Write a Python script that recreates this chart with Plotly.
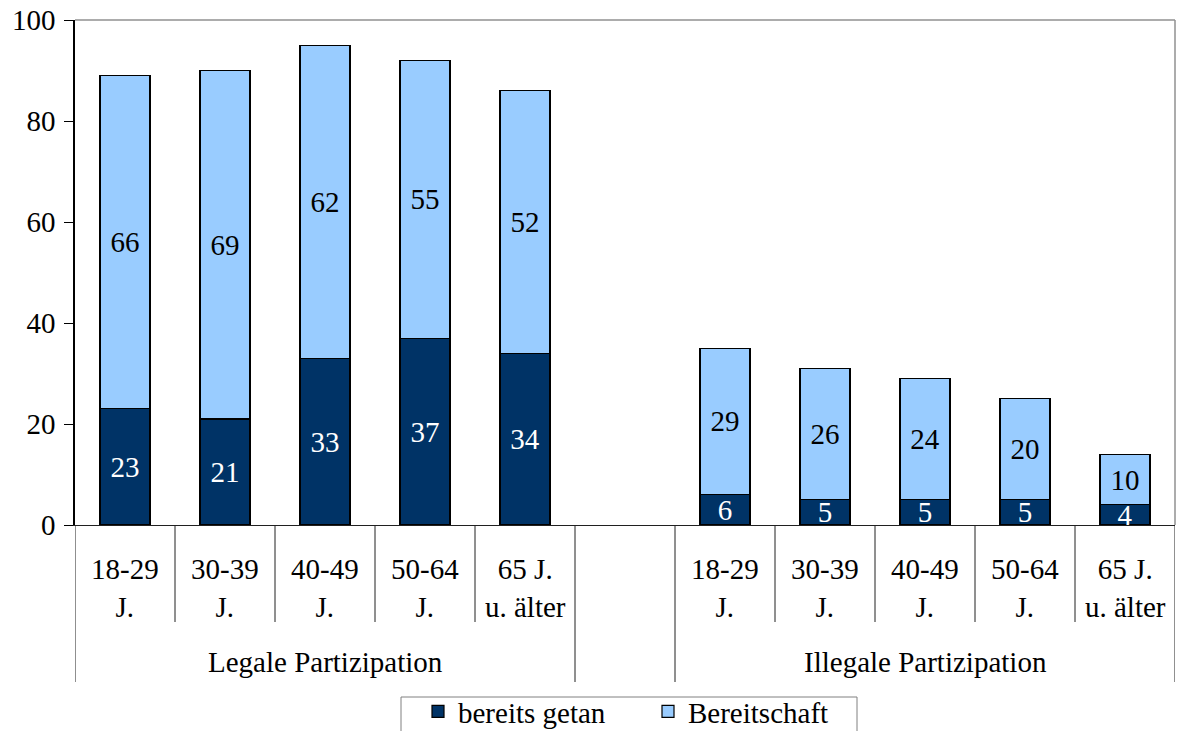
import plotly.graph_objects as go

groups = ["Legale Partizipation", "Illegale Partizipation"]
age_labels = ["18-29<br>J.", "30-39<br>J.", "40-49<br>J.", "50-64<br>J.", "65 J.<br>u. älter"]
done_legal = [23, 21, 33, 37, 34]
ready_legal = [66, 69, 62, 55, 52]
done_illegal = [6, 5, 5, 5, 4]
ready_illegal = [29, 26, 24, 20, 10]

# positions: 5 legal, 1 empty, 5 illegal
x_legal = list(range(0, 5))
x_illegal = list(range(6, 11))
xs = x_legal + x_illegal
done = done_legal + done_illegal
ready = ready_legal + ready_illegal

FONT = "Liberation Serif"
FS = 29
DARK = "#003366"
LIGHT = "#99CCFF"

fig = go.Figure()
fig.add_trace(go.Bar(
    x=xs, y=done, name="bereits getan", width=0.5,
    marker=dict(color=DARK, line=dict(color="black", width=1.2)),
    text=[str(v) for v in done], textposition="inside", insidetextanchor="middle",
    textangle=0, insidetextfont=dict(color="white", size=FS, family=FONT),
    hoverinfo="skip",
))
fig.add_trace(go.Bar(
    x=xs, y=ready, name="Bereitschaft", width=0.5,
    marker=dict(color=LIGHT, line=dict(color="black", width=1.2)),
    text=[str(v) for v in ready], textposition="inside", insidetextanchor="middle",
    textangle=0, insidetextfont=dict(color="black", size=FS, family=FONT),
    hoverinfo="skip",
))

W, Hfig = 1179, 731
plot_top, plot_bottom = 20, 525   # page pixels
plot_left, plot_right = 75, 1175
H = plot_bottom - plot_top
PW = plot_right - plot_left

def py(pix):
    return (plot_bottom - pix) / H

def px(pix):
    return (pix - plot_left) / PW

shapes = []
for b in [0.5, 1.5, 2.5, 3.5, 6.5, 7.5, 8.5, 9.5]:
    shapes.append(dict(type="line", xref="x", yref="paper", x0=b, x1=b, y0=0, y1=py(622),
                       line=dict(color="#202020", width=1)))
for b in [-0.5, 4.5, 5.5, 10.5]:
    shapes.append(dict(type="line", xref="x", yref="paper", x0=b, x1=b, y0=0, y1=py(682),
                       line=dict(color="#202020", width=1)))
shapes.append(dict(type="line", xref="paper", yref="paper", x0=0, x1=1, y0=1, y1=1,
                   line=dict(color="#909090", width=1.5)))
shapes.append(dict(type="line", xref="paper", yref="paper", x0=1, x1=1, y0=0, y1=1,
                   line=dict(color="#909090", width=1.5)))
# legend frame
shapes.append(dict(type="rect", xref="paper", yref="paper", x0=px(401), x1=px(857),
                   y0=py(697), y1=py(760), line=dict(color="#808080", width=1),
                   fillcolor="rgba(0,0,0,0)"))

annotations = []
for xpos_list in (x_legal, x_illegal):
    for xp, lab in zip(xpos_list, age_labels):
        annotations.append(dict(x=xp, y=py(588), xref="x", yref="paper", text=lab,
                                showarrow=False, yanchor="middle",
                                font=dict(family=FONT, size=FS, color="black")))
annotations.append(dict(x=sum(x_legal) / 5, y=py(662), xref="x", yref="paper", text=groups[0],
                        showarrow=False, yanchor="middle",
                        font=dict(family=FONT, size=FS, color="black")))
annotations.append(dict(x=sum(x_illegal) / 5, y=py(662), xref="x", yref="paper", text=groups[1],
                        showarrow=False, yanchor="middle",
                        font=dict(family=FONT, size=FS, color="black")))

fig.update_layout(
    barmode="stack",
    width=W, height=Hfig,
    margin=dict(l=plot_left, r=W - plot_right, t=plot_top,
                b=Hfig - plot_bottom, pad=0, autoexpand=False),
    paper_bgcolor="white", plot_bgcolor="white",
    font=dict(family=FONT, size=FS, color="black"),
    uniformtext=dict(mode="show", minsize=FS),
    showlegend=True,
    legend=dict(orientation="h", x=px(418), xanchor="left",
                y=py(686), yanchor="top",
                xref="paper", yref="paper", traceorder="normal",
                borderwidth=0, bgcolor="rgba(0,0,0,0)",
                font=dict(family=FONT, size=FS, color="black"),
                itemwidth=30, entrywidth=185, entrywidthmode="pixels"),
    shapes=shapes,
    annotations=annotations,
)
fig.update_xaxes(range=[-0.5, 10.5], showticklabels=False, ticks="", showgrid=False,
                 zeroline=False, showline=True, linecolor="#202020", linewidth=1)
fig.update_yaxes(range=[0, 100], tickvals=[0, 20, 40, 60, 80, 100], ticks="outside",
                 ticklen=9, tickcolor="black", showgrid=False, zeroline=False,
                 showline=True, linecolor="black", linewidth=1.5, ticklabelstandoff=3,
                 ticklabeloverflow="allow",
                 tickfont=dict(family=FONT, size=FS, color="black"))

fig.write_html("out.html", config={"displayModeBar": False},
               post_script="document.body.style.margin='0';document.body.style.overflow='hidden';")
